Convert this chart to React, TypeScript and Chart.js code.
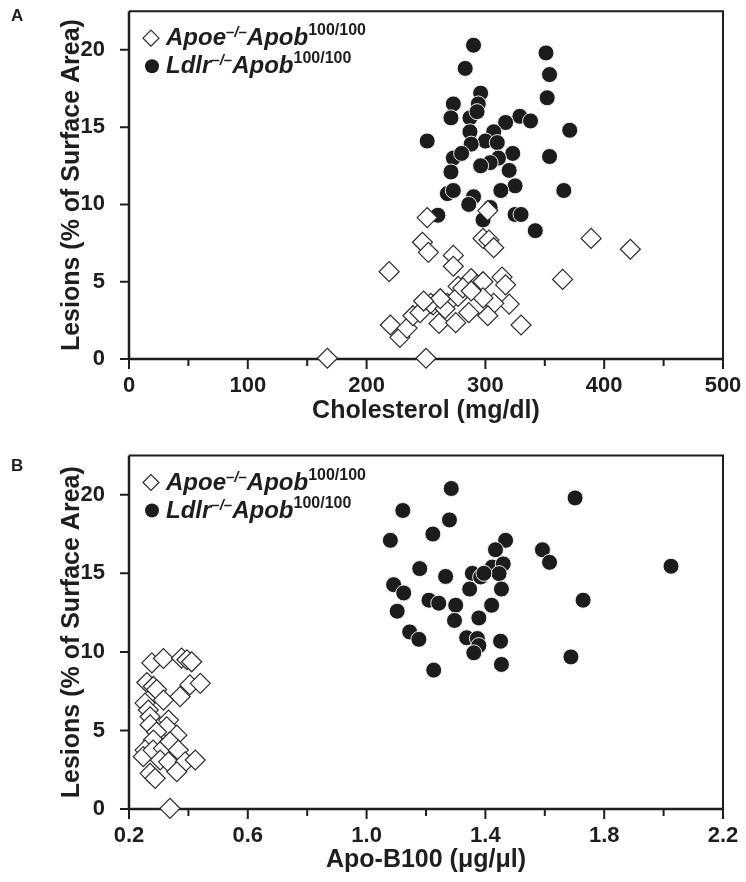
import React, { useEffect, useRef } from 'react';
import { Chart, registerables } from 'chart.js';

Chart.register(...registerables);

// ---------- Panel A: cholesterol vs lesions ----------
const A_APOE_CHOL = [167, 250, 219, 251, 247, 252, 220, 228, 234, 239, 245, 256, 261, 268, 273, 273, 298, 302, 303, 307, 389, 422, 365, 314, 317, 288, 293, 298, 277, 320, 307, 298, 286, 302, 275, 330, 254, 266, 277, 281, 262, 248, 288];
const A_APOE_LES = [0.05, 0.05, 5.65, 9.15, 7.55, 6.9, 2.2, 1.4, 2.0, 2.8, 3.0, 3.5, 2.3, 3.6, 6.7, 6.0, 7.8, 9.6, 7.7, 7.2, 7.8, 7.1, 5.15, 5.3, 4.8, 5.2, 4.8, 5.0, 4.7, 3.55, 3.6, 3.95, 3.0, 2.8, 2.35, 2.2, 3.6, 3.25, 4.05, 4.6, 3.9, 3.75, 4.4];
const A_LDLR_CHOL = [290, 351, 283, 354, 296, 294, 352, 273, 271, 287, 293, 329, 338, 317, 251, 371, 307, 287, 300, 288, 310, 273, 280, 323, 354, 311, 304, 271, 320, 325, 268, 273, 290, 286, 313, 366, 260, 298, 304, 325, 330, 342, 296];
const A_LDLR_LES = [20.3, 19.8, 18.8, 18.4, 17.2, 16.5, 16.9, 16.5, 15.6, 15.6, 16.0, 15.7, 15.4, 15.3, 14.1, 14.8, 14.7, 14.7, 14.1, 13.9, 14.0, 13.0, 13.3, 13.3, 13.1, 13.0, 12.7, 12.1, 12.2, 11.2, 10.7, 10.9, 10.5, 10.0, 10.9, 10.9, 9.3, 9.0, 9.8, 9.35, 9.35, 8.3, 12.5];

// ---------- Panel B: Apo-B100 vs lesions ----------
const B_APOE_APOB = [0.277, 0.316, 0.377, 0.395, 0.411, 0.26, 0.282, 0.293, 0.405, 0.44, 0.372, 0.316, 0.254, 0.265, 0.271, 0.271, 0.333, 0.327, 0.361, 0.293, 0.282, 0.254, 0.248, 0.281, 0.316, 0.338, 0.366, 0.305, 0.333, 0.389, 0.423, 0.271, 0.288, 0.361, 0.338];
const B_APOE_LES = [9.3, 9.58, 9.6, 9.5, 9.37, 8.05, 7.8, 7.6, 7.9, 8.0, 7.15, 6.93, 6.74, 6.3, 5.87, 5.35, 5.66, 5.23, 4.7, 4.9, 4.39, 3.75, 3.33, 3.75, 3.86, 4.28, 3.75, 3.12, 3.0, 3.0, 3.12, 2.27, 1.95, 2.37, 0.04];
const B_LDLR_APOB = [1.285, 1.702, 1.122, 1.279, 1.223, 1.08, 1.468, 1.434, 1.592, 1.616, 2.025, 1.179, 1.266, 1.356, 1.384, 1.423, 1.46, 1.446, 1.395, 1.091, 1.125, 1.347, 1.454, 1.21, 1.243, 1.3, 1.421, 1.729, 1.103, 1.296, 1.378, 1.145, 1.176, 1.337, 1.373, 1.378, 1.361, 1.451, 1.688, 1.226, 1.454];
const B_LDLR_LES = [20.4, 19.8, 19.0, 18.4, 17.5, 17.1, 17.1, 16.5, 16.5, 15.7, 15.45, 15.3, 14.8, 15.0, 14.77, 15.4, 15.6, 14.98, 15.0, 14.28, 13.75, 14.0, 14.0, 13.29, 13.1, 12.97, 12.97, 13.29, 12.59, 12.0, 12.16, 11.27, 10.8, 10.9, 10.85, 10.4, 9.94, 10.68, 9.68, 8.84, 9.2];

// ---------- Axes ----------
const Y_TICKS = [0, 5, 10, 15, 20];
const Y_MIN = 0;
const Y_MAX = 22.5;
const A_X_TICKS = [0, 100, 200, 300, 400, 500];
const A_X_MINOR = [50, 150, 250, 350, 450];
const B_X_TICKS = [0.2, 0.6, 1.0, 1.4, 1.8, 2.2];
const B_X_MINOR = [0.4, 0.8, 1.2, 1.6, 2.0];

const Y_TITLE = 'Lesions (% of Surface Area)';
const A_X_TITLE = 'Cholesterol (mg/dl)';
const B_X_TITLE = 'Apo-B100 (\u03BCg/\u03BCl)';

const INK = '#1e1e1e';
const FAMILY = "'Liberation Sans', Arial, Helvetica, sans-serif";

type Seg = { text: string; font: string; dy: number };

function drawRich(ctx: CanvasRenderingContext2D, x: number, y: number, segs: Seg[]) {
  let cx = x;
  for (const s of segs) {
    ctx.font = s.font;
    ctx.fillText(s.text, cx, y + s.dy);
    cx += ctx.measureText(s.text).width;
  }
}

const decorPlugin = {
  id: 'decor',
  beforeDatasetsDraw(chart: any, _args: any, opts: any) {
    const { ctx, chartArea: ca, scales } = chart;
    ctx.save();
    ctx.strokeStyle = INK;
    ctx.lineCap = 'butt';
    ctx.lineWidth = 2;
    ctx.beginPath();
    ctx.moveTo(ca.left, ca.top);
    ctx.lineTo(ca.right, ca.top);
    ctx.lineTo(ca.right, ca.bottom);
    ctx.stroke();
    ctx.lineWidth = 2.5;
    ctx.beginPath();
    ctx.moveTo(ca.left, ca.top);
    ctx.lineTo(ca.left, ca.bottom);
    ctx.lineTo(ca.right + 1, ca.bottom);
    ctx.stroke();
    ctx.lineWidth = 2;
    ctx.beginPath();
    for (const v of opts.xMajor) {
      const px = scales.x.getPixelForValue(v);
      ctx.moveTo(px, ca.bottom);
      ctx.lineTo(px, ca.bottom + 10);
    }
    for (const v of opts.xMinor) {
      const px = scales.x.getPixelForValue(v);
      ctx.moveTo(px, ca.bottom);
      ctx.lineTo(px, ca.bottom + 7);
    }
    for (const v of Y_TICKS) {
      const py = scales.y.getPixelForValue(v);
      ctx.moveTo(ca.left - 9, py);
      ctx.lineTo(ca.left, py);
    }
    ctx.stroke();
    ctx.restore();
  },
  afterDraw(chart: any, _args: any, opts: any) {
    const { ctx, chartArea: ca } = chart;
    ctx.save();
    ctx.fillStyle = INK;
    ctx.textAlign = 'left';
    // panel letter
    ctx.font = `bold 17px ${FAMILY}`;
    ctx.textBaseline = 'middle';
    ctx.fillText(opts.letter, 11, opts.letterY);
    ctx.textBaseline = 'alphabetic';
    // legend symbols
    const sx = 151;
    const dyD = ca.top + 27;
    const dyC = ca.top + 55;
    ctx.lineWidth = 1.2;
    ctx.strokeStyle = '#2a2a2a';
    ctx.fillStyle = '#fff';
    ctx.beginPath();
    ctx.moveTo(sx - 8, dyD);
    ctx.lineTo(sx, dyD - 8);
    ctx.lineTo(sx + 8, dyD);
    ctx.lineTo(sx, dyD + 8);
    ctx.closePath();
    ctx.fill();
    ctx.stroke();
    ctx.fillStyle = '#1c1c1c';
    ctx.beginPath();
    ctx.arc(sx + 1, dyC, 7, 0, Math.PI * 2);
    ctx.fill();
    // legend text
    ctx.fillStyle = INK;
    const big = `italic bold 24px ${FAMILY}`;
    const supI = `italic bold 15px ${FAMILY}`;
    const sup = `bold 16px ${FAMILY}`;
    const tx = 166;
    drawRich(ctx, tx, ca.top + 34, [
      { text: 'Apoe', font: big, dy: 0 },
      { text: '\u2013/\u2013', font: supI, dy: -8 },
      { text: 'Apob', font: big, dy: 0 },
      { text: '100/100', font: sup, dy: -10 },
    ]);
    drawRich(ctx, tx, ca.top + 62, [
      { text: 'Ldlr', font: big, dy: 0 },
      { text: '\u2013/\u2013', font: supI, dy: -8 },
      { text: 'Apob', font: big, dy: 0 },
      { text: '100/100', font: sup, dy: -10 },
    ]);
    ctx.restore();
  },
};

type PanelSpec = {
  apoeX: number[];
  apoeY: number[];
  ldlrX: number[];
  ldlrY: number[];
  xMin: number;
  xMax: number;
  xTicks: number[];
  xMinor: number[];
  xTitle: string;
  fmt: (v: number) => string;
  padTop: number;
  plotBottom: number;
  tickPad: number;
  titlePadB: number;
  letter: string;
  letterY: number;
};

const W = 746;
const H = 441;

function makeConfig(p: PanelSpec): any {
  const tickFont = { family: FAMILY, size: 22, weight: 'bold' as const };
  const titleFont = { family: FAMILY, size: 25, weight: 'bold' as const };
  return {
    type: 'scatter',
    data: {
      datasets: [
        {
          label: 'Apoe-/-Apob100/100',
          data: p.apoeX.map((x, i) => ({ x, y: p.apoeY[i] })),
          pointStyle: 'rectRot',
          pointRadius: 10,
          pointHoverRadius: 10,
          backgroundColor: '#ffffff',
          borderColor: '#2a2a2a',
          borderWidth: 1.2,
          clip: false,
        },
        {
          label: 'Ldlr-/-Apob100/100',
          data: p.ldlrX.map((x, i) => ({ x, y: p.ldlrY[i] })),
          pointStyle: 'circle',
          pointRadius: 8,
          pointHoverRadius: 8,
          backgroundColor: '#1c1c1c',
          borderColor: 'rgba(255,255,255,0.9)',
          borderWidth: 1,
          clip: false,
        },
      ],
    },
    options: {
      animation: false,
      responsive: false,
      events: [],
      layout: { padding: { top: p.padTop, right: W - 723, left: 0, bottom: 0 } },
      plugins: {
        legend: { display: false },
        tooltip: { enabled: false },
        decor: { xMajor: p.xTicks, xMinor: p.xMinor, letter: p.letter, letterY: p.letterY },
      },
      scales: {
        x: {
          type: 'linear',
          min: p.xMin,
          max: p.xMax,
          grid: { display: false },
          border: { display: false },
          afterBuildTicks: (s: any) => {
            s.ticks = p.xTicks.map((v) => ({ value: v }));
          },
          afterFit: (s: any) => {
            s.height = H - p.plotBottom;
            s.paddingLeft = 0;
            s.paddingRight = 0;
          },
          ticks: {
            color: INK,
            font: tickFont,
            padding: p.tickPad,
            maxRotation: 0,
            autoSkip: false,
            callback: (v: number) => p.fmt(v),
          },
          title: {
            display: true,
            text: p.xTitle,
            color: INK,
            font: titleFont,
            padding: { top: 0, bottom: p.titlePadB },
          },
        },
        y: {
          type: 'linear',
          min: Y_MIN,
          max: Y_MAX,
          grid: { display: false },
          border: { display: false },
          afterBuildTicks: (s: any) => {
            s.ticks = Y_TICKS.map((v) => ({ value: v }));
          },
          afterFit: (s: any) => {
            s.width = 129;
            s.paddingTop = 0;
            s.paddingBottom = 0;
          },
          ticks: {
            color: INK,
            font: tickFont,
            padding: 16,
            autoSkip: false,
            callback: (v: number) => String(v),
          },
          title: {
            display: true,
            text: Y_TITLE,
            color: INK,
            font: titleFont,
            padding: { top: 57, bottom: 0 },
          },
        },
      },
    },
    plugins: [decorPlugin],
  };
}

const PANEL_A: PanelSpec = {
  apoeX: A_APOE_CHOL,
  apoeY: A_APOE_LES,
  ldlrX: A_LDLR_CHOL,
  ldlrY: A_LDLR_LES,
  xMin: 0,
  xMax: 500,
  xTicks: A_X_TICKS,
  xMinor: A_X_MINOR,
  xTitle: A_X_TITLE,
  fmt: (v) => String(v),
  padTop: 5,
  plotBottom: 359,
  tickPad: 6,
  titlePadB: 15,
  letter: 'A',
  letterY: 16,
};

const PANEL_B: PanelSpec = {
  apoeX: B_APOE_APOB,
  apoeY: B_APOE_LES,
  ldlrX: B_LDLR_APOB,
  ldlrY: B_LDLR_LES,
  xMin: 0.2,
  xMax: 2.2,
  xTicks: B_X_TICKS,
  xMinor: B_X_MINOR,
  xTitle: B_X_TITLE,
  fmt: (v) => v.toFixed(1),
  padTop: 14.5,
  plotBottom: 368,
  tickPad: 6,
  titlePadB: 7,
  letter: 'B',
  letterY: 25,
};

function Panel({ spec }: { spec: PanelSpec }) {
  const ref = useRef<HTMLCanvasElement | null>(null);
  useEffect(() => {
    if (!ref.current) return;
    const chart = new Chart(ref.current, makeConfig(spec));
    return () => chart.destroy();
  }, [spec]);
  return <canvas ref={ref} width={W} height={H} style={{ display: 'block', width: W, height: H }} />;
}

export default function App() {
  return (
    <div style={{ position: 'absolute', left: 0, top: 0, width: W, height: 2 * H, background: '#fff' }}>
      <Panel spec={PANEL_A} />
      <Panel spec={PANEL_B} />
    </div>
  );
}
